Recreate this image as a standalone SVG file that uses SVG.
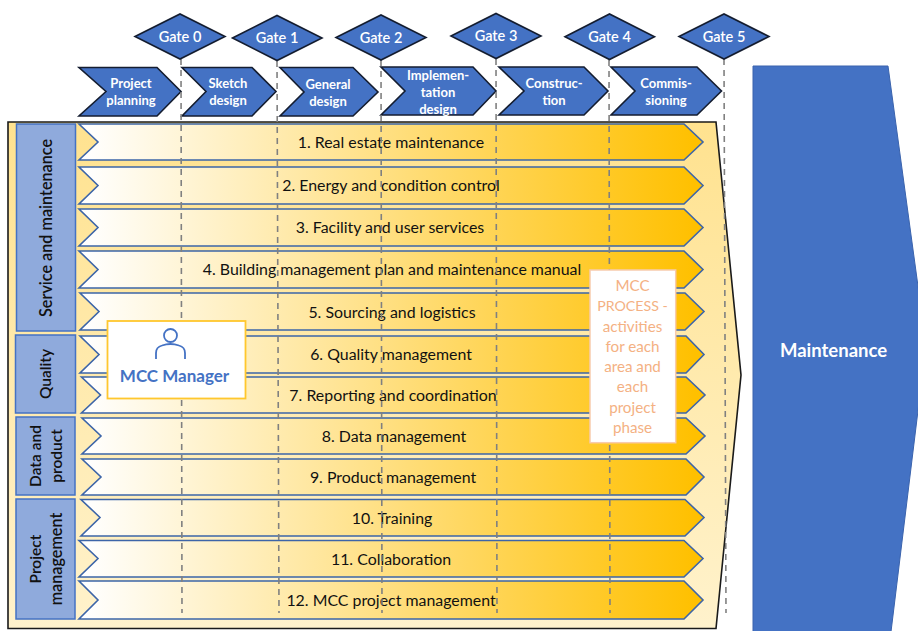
<svg xmlns="http://www.w3.org/2000/svg" width="918" height="631" viewBox="0 0 918 631">
<style>
text{font-family:"Lato","Liberation Sans",sans-serif;text-anchor:middle}
.blue{fill:#4472C4;stroke:#141d30;stroke-width:1.6}
.gt{fill:#fff;font-size:14.5px;font-weight:600}
.pt{fill:#fff;font-size:13px;font-weight:700}
.row{fill:url(#rowg);stroke:#3d65a8;stroke-width:1.6}
.rt{fill:#111;font-size:15.9px}
.side{fill:#8FAADC;stroke:#4472C4;stroke-width:1.5}
.st{fill:#111;font-size:15.5px;font-weight:600}
.dash{stroke:#808080;stroke-width:1.6;stroke-dasharray:6 5;fill:none}
.pr{fill:#F4B183;font-size:15.2px;font-weight:400}
</style>
<defs>
<linearGradient id="rowg" gradientUnits="userSpaceOnUse" x1="85" y1="0" x2="695" y2="0">
<stop offset="0" stop-color="#fff"/><stop offset="0.5" stop-color="#FFDF80"/><stop offset="1" stop-color="#FFC000"/>
</linearGradient>
<linearGradient id="bg" x1="0" y1="0" x2="0" y2="1">
<stop offset="0" stop-color="#FFE28F"/><stop offset="1" stop-color="#FFF2CC"/>
</linearGradient>
</defs>
<g id="frame"><polygon points="8,122 716,122 741,375 716,628.5 8,628.5" fill="url(#bg)" stroke="#1a1a1a" stroke-width="1.6"/></g>
<g id="maintenance"><polygon points="753,66 888,66 926,345 890,640 753,640" fill="#4472C4" stroke="#3a63ad" stroke-width="1"/><text x="833.5" y="356.5" fill="#fff" font-size="18.5" font-weight="700">Maintenance</text></g>
<g id="side-service"><rect class="side" x="16.5" y="124" width="59" height="207"/><text class="st" style="font-size:16.2px" transform="translate(52,228) rotate(-90)">Service and maintenance</text></g>
<g id="side-quality"><rect class="side" x="15.5" y="335" width="60" height="78"/><text class="st" transform="translate(51,374) rotate(-90)">Quality</text></g>
<g id="side-data"><rect class="side" x="16" y="417" width="59" height="78"/><text class="st" transform="translate(41,456) rotate(-90)">Data and</text><text class="st" transform="translate(62,456) rotate(-90)">product</text></g>
<g id="side-project"><rect class="side" x="16" y="499" width="59" height="120"/><text class="st" transform="translate(41,559) rotate(-90)">Project</text><text class="st" style="font-size:16.2px" transform="translate(62,559) rotate(-90)">management</text></g>
<g id="row-1"><polygon class="row" points="79,124 684,124 703,142 684,160 79,160 98,142"/><text class="rt" x="391" y="147.5">1. Real estate maintenance</text></g>
<g id="row-2"><polygon class="row" points="79,167 684,167 703,185.5 684,204 79,204 98,185.5"/><text class="rt" x="391" y="190.5">2. Energy and condition control</text></g>
<g id="row-3"><polygon class="row" points="79,209 684,209 703,227.5 684,246 79,246 98,227.5"/><text class="rt" x="390" y="233">3. Facility and user services</text></g>
<g id="row-4"><polygon class="row" points="79,251 684,251 703,269.5 684,288 79,288 98,269.5"/><text class="rt" x="392" y="275">4. Building management plan and maintenance manual</text></g>
<g id="row-5"><polygon class="row" points="80,293 685,293 704,311.5 685,330 80,330 99,311.5"/><text class="rt" x="392" y="317.5">5. Sourcing and logistics</text></g>
<g id="row-6"><polygon class="row" points="80,336 686,336 704,354.5 686,373 80,373 99,354.5"/><text class="rt" x="391" y="360">6. Quality management</text></g>
<g id="row-7"><polygon class="row" points="81.5,377 686,377 705,395 686,413 81.5,413 100.5,395"/><text class="rt" x="393" y="400.5">7. Reporting and coordination</text></g>
<g id="row-8"><polygon class="row" points="82,418 686,418 705,436 686,454 82,454 101,436"/><text class="rt" x="394" y="441.5">8. Data management</text></g>
<g id="row-9"><polygon class="row" points="82,459 686,459 704,477 686,495 82,495 101,477"/><text class="rt" x="393" y="482.5">9. Product management</text></g>
<g id="row-10"><polygon class="row" points="81,499.5 685,499.5 704,517.5 685,536 81,536 100,517.5"/><text class="rt" x="392" y="523.5">10. Training</text></g>
<g id="row-11"><polygon class="row" points="79,540.5 684,540.5 703,558.5 684,577 79,577 98,558.5"/><text class="rt" x="391" y="564.5">11. Collaboration</text></g>
<g id="row-12"><polygon class="row" points="79,581 684,581 703,600 684,619 79,619 98,600"/><text class="rt" x="391" y="605.5">12. MCC project management</text></g>
<g id="phase-1"><polygon class="blue" points="79,67.5 157,67.5 181,91.5 157,116 79,116 106,91.5"/><text class="pt" x="131" y="88">Project</text><text class="pt" x="131" y="105">planning</text></g>
<g id="phase-2"><polygon class="blue" points="182,67.5 252,67.5 276,91.5 252,116 182,116 206,91.5"/><text class="pt" x="228" y="88">Sketch</text><text class="pt" x="228" y="105">design</text></g>
<g id="phase-3"><polygon class="blue" points="280,67.5 353,67.5 378,92 353,116 280,116 304,92"/><text class="pt" x="328" y="89">General</text><text class="pt" x="328" y="106">design</text></g>
<g id="phase-4"><polygon class="blue" points="381,67 473,67 496,91 473,115 381,115 405,91"/><text class="pt" x="438" y="80">Implemen-</text><text class="pt" x="438" y="97">tation</text><text class="pt" x="438" y="114">design</text></g>
<g id="phase-5"><polygon class="blue" points="499,67 584,67 608,91 584,115 499,115 524,91"/><text class="pt" x="554" y="88">Construc-</text><text class="pt" x="554" y="105">tion</text></g>
<g id="phase-6"><polygon class="blue" points="611,67 697,67 721.5,91 697,115 611,115 635,91"/><text class="pt" x="666" y="88">Commis-</text><text class="pt" x="666" y="105">sioning</text></g>
<g id="connectors">
<line class="dash" x1="181" y1="59" x2="182" y2="613"/>
<line class="dash" x1="277" y1="61" x2="279" y2="613"/>
<line class="dash" x1="381" y1="60" x2="382" y2="613"/>
<line class="dash" x1="496" y1="59" x2="497" y2="613"/>
<line class="dash" x1="609" y1="60" x2="610" y2="613"/>
<line class="dash" x1="724" y1="59" x2="726" y2="613"/>
</g>
<g id="gate-0"><polygon class="blue" points="135,36.5 180,14 225,36.5 180,59"/><text class="gt" x="180" y="41.5">Gate 0</text></g>
<g id="gate-1"><polygon class="blue" points="232.5,38 277,15.5 322,38 277,60.5"/><text class="gt" x="277" y="43">Gate 1</text></g>
<g id="gate-2"><polygon class="blue" points="336,37.5 381,15 426,37.5 381,60"/><text class="gt" x="381" y="42.5">Gate 2</text></g>
<g id="gate-3"><polygon class="blue" points="451,36 496,13.5 541,36 496,58.5"/><text class="gt" x="496" y="41">Gate 3</text></g>
<g id="gate-4"><polygon class="blue" points="565,36.7 609.5,14 654.5,36.7 609.5,59.5"/><text class="gt" x="609.5" y="42">Gate 4</text></g>
<g id="gate-5"><polygon class="blue" points="679,36.5 724,14 769,36.5 724,59"/><text class="gt" x="724" y="41.5">Gate 5</text></g>
<g id="mcc-manager"><rect x="107.5" y="321" width="138" height="77.5" fill="#fff" stroke="#FFC72E" stroke-width="1.8"/>
<circle cx="170.5" cy="335.5" r="6.5" fill="none" stroke="#4472C4" stroke-width="1.8"/>
<path d="M156,359 V353 Q156,347 162,345.5 Q170.5,342.5 179,345.5 Q185,347 185,353 V359" fill="none" stroke="#4472C4" stroke-width="1.8"/>
<text x="174.5" y="381.5" fill="#4472C4" font-size="17" font-weight="700">MCC Manager</text></g>
<g id="mcc-process"><rect x="590" y="270" width="85.7" height="172.7" fill="#fff" stroke="#F8CBAD" stroke-width="1.5"/>
<text class="pr" x="632.5" y="291">MCC</text><text class="pr" x="632.5" y="311" style="font-size:14.2px">PROCESS -</text><text class="pr" x="632.5" y="331.5">activities</text><text class="pr" x="632.5" y="351.5">for each</text><text class="pr" x="632.5" y="372">area and</text><text class="pr" x="632.5" y="392">each</text><text class="pr" x="632.5" y="412.5">project</text><text class="pr" x="632.5" y="432.5">phase</text></g>
</svg>
